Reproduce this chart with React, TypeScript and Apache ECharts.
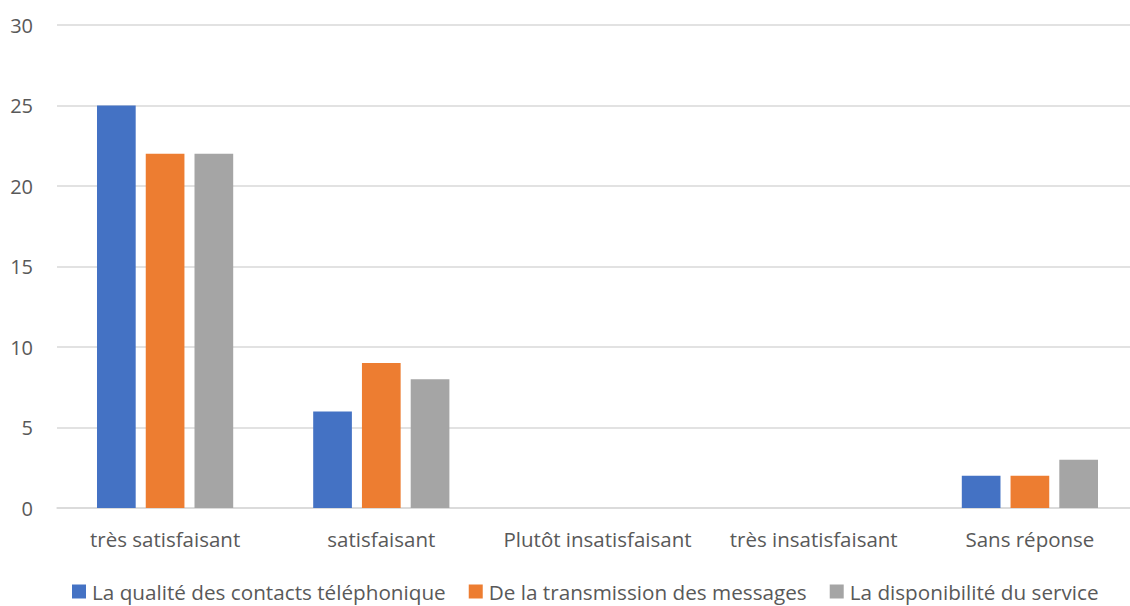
import React, { useEffect, useRef } from "react";
import * as echarts from "echarts";

const categories = ["très satisfaisant", "satisfaisant", "Plutôt insatisfaisant", "très insatisfaisant", "Sans réponse"];
const seriesNames = [
  "La qualité des contacts téléphonique",
  "De la transmission des messages",
  "La disponibilité du service",
];
const qualite = [25, 6, 0, 0, 2];
const transmission = [22, 9, 0, 0, 2];
const disponibilite = [22, 8, 0, 0, 3];
const colors = ["#4472C4", "#ED7D31", "#A5A5A5"];

export default function App() {
  const ref = useRef<HTMLDivElement>(null);
  useEffect(() => {
    if (!ref.current) return;
    const chart = echarts.init(ref.current, null, { renderer: "svg" });
    const font = "'Open Sans', 'Noto Sans', sans-serif";
    const data = [qualite, transmission, disponibilite];
    chart.setOption({
      animation: false,
      textStyle: { fontFamily: font },
      grid: { left: 57, width: 1081, top: 25, height: 483 },
      legend: {
        left: 72,
        top: 581,
        padding: 0,
        itemWidth: 14,
        itemHeight: 14,
        itemGap: 23,
        icon: "rect",
        textStyle: { color: "#595959", fontSize: 20.7, fontFamily: font, padding: [0, 0, 0, 1] },
        data: seriesNames,
      },
      xAxis: {
        type: "category",
        data: categories,
        axisLine: { lineStyle: { color: "#d9d9d9", width: 1.5 } },
        axisTick: { show: false },
        axisLabel: { color: "#595959", fontSize: 20.5, margin: 20, interval: 0, fontFamily: font },
      },
      yAxis: {
        type: "value",
        min: 0,
        max: 30,
        interval: 5,
        splitLine: { lineStyle: { color: "#d9d9d9", width: 1.5 } },
        axisLabel: { color: "#595959", fontSize: 20, margin: 24, fontFamily: font },
      },
      series: seriesNames.map((name, i) => ({
        name,
        type: "bar",
        data: data[i],
        itemStyle: { color: colors[i] },
        barGap: "26%",
        barCategoryGap: "37%",
      })),
    });
    return () => chart.dispose();
  }, []);
  return (
    <div
      ref={ref}
      style={{ position: "fixed", left: 0, top: 0, width: 1150, height: 606, background: "#fff" }}
    />
  );
}
